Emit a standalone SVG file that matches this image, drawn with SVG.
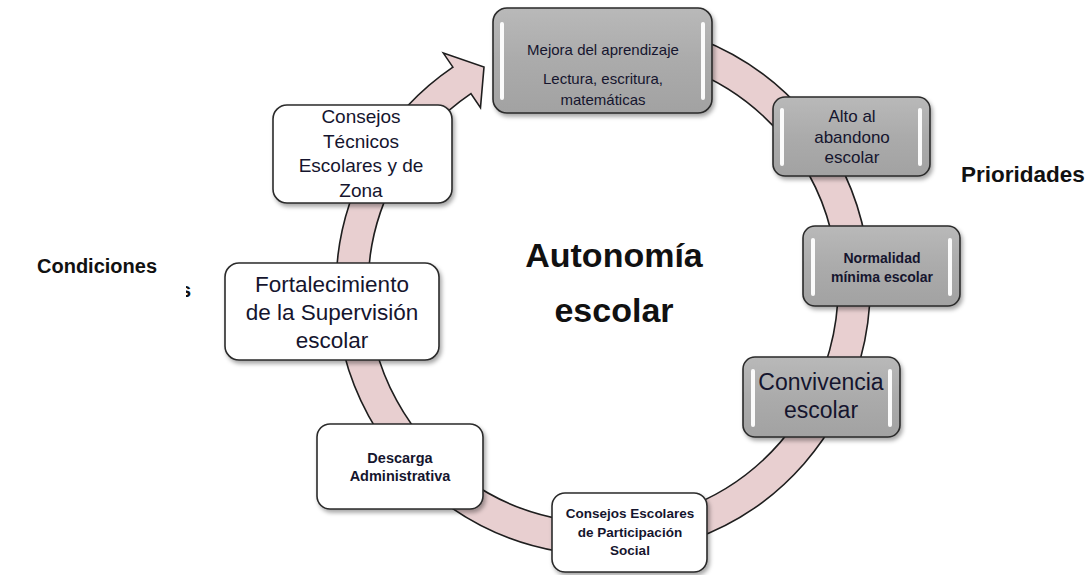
<svg xmlns="http://www.w3.org/2000/svg" width="1091" height="575" viewBox="0 0 1091 575">
<style>
  .t { font-family: "Liberation Sans", Arial, sans-serif; fill: #15152e; text-anchor: middle; }
  .b { font-weight: bold; }
  .gray { fill: url(#gg); stroke: #2a2a2a; stroke-width: 1.6; filter: url(#sh); }
  .white { fill: #ffffff; stroke: #2a2a2a; stroke-width: 1.6; filter: url(#sh); }
  .hl { fill: #ffffff; opacity: 0.95; }
  .ring { fill: #e8cfd0; stroke: #1e1e1e; stroke-width: 1.6; stroke-linejoin: miter; }
  .lbl { font-family: "Liberation Sans", Arial, sans-serif; font-weight: bold; fill: #111111; }
</style>
<defs>
  <linearGradient id="gg" x1="0" y1="0" x2="0" y2="1">
    <stop offset="0" stop-color="#b9b9b9"/>
    <stop offset="0.5" stop-color="#ababab"/>
    <stop offset="1" stop-color="#a2a2a2"/>
  </linearGradient>
  <filter id="sh" x="-10%" y="-10%" width="125%" height="130%">
    <feDropShadow dx="2" dy="3" stdDeviation="2" flood-color="#000" flood-opacity="0.35"/>
  </filter>
  <clipPath id="sclip"><rect x="186" y="270" width="10" height="40"/></clipPath>
</defs>

<g id="connectors">
  <path class="ring" d="M579.73,22.02 A267,267 0 1 1 452.92,67.17 L443.37,53.11 L484.0,67.0 L480.47,107.7 L470.91,93.64 A235,235 0 1 0 582.52,53.9 Z"/>
</g>

<g id="n-mejora">
  <rect class="gray" x="493" y="8" width="219" height="105" rx="14"/>
  <rect class="hl" x="500" y="22" width="4" height="78" rx="2"/>
  <rect class="hl" x="701" y="22" width="4" height="78" rx="2"/>
  <text class="t" x="603" y="55" font-size="15">Mejora del aprendizaje</text>
  <text class="t" x="603" y="84" font-size="15">Lectura, escritura,</text>
  <text class="t" x="603" y="105" font-size="15">matemáticas</text>
</g>

<g id="n-alto">
  <rect class="gray" x="773" y="97" width="157" height="79" rx="12"/>
  <rect class="hl" x="780" y="108" width="4" height="58" rx="2"/>
  <rect class="hl" x="918" y="108" width="4" height="58" rx="2"/>
  <text class="t" x="852" y="122" font-size="17">Alto al</text>
  <text class="t" x="852" y="143" font-size="17">abandono</text>
  <text class="t" x="852" y="163" font-size="17">escolar</text>
</g>

<g id="n-normalidad">
  <rect class="gray" x="803" y="226" width="157" height="80" rx="12"/>
  <rect class="hl" x="811" y="238" width="4" height="58" rx="2"/>
  <rect class="hl" x="948" y="238" width="4" height="58" rx="2"/>
  <text class="t b" x="882" y="263" font-size="14">Normalidad</text>
  <text class="t b" x="882" y="282" font-size="14">mínima escolar</text>
</g>

<g id="n-convivencia">
  <rect class="gray" x="743" y="357" width="157" height="80" rx="12"/>
  <rect class="hl" x="751" y="369" width="4" height="58" rx="2"/>
  <rect class="hl" x="888" y="369" width="4" height="58" rx="2"/>
  <text class="t" x="821" y="390" font-size="23">Convivencia</text>
  <text class="t" x="821" y="418" font-size="23">escolar</text>
</g>

<g id="n-consejos-escolares">
  <rect class="white" x="552" y="493" width="155" height="79" rx="13"/>
  <text class="t b" x="630" y="518" font-size="13.5">Consejos Escolares</text>
  <text class="t b" x="630" y="537" font-size="13.5">de Participación</text>
  <text class="t b" x="630" y="555" font-size="13.5">Social</text>
</g>

<g id="n-descarga">
  <rect class="white" x="317" y="424" width="166" height="85" rx="13"/>
  <text class="t b" x="400" y="463" font-size="14.5">Descarga</text>
  <text class="t b" x="400" y="481" font-size="14.5">Administrativa</text>
</g>

<g id="n-fortalecimiento">
  <rect class="white" x="225" y="263" width="214" height="97" rx="14"/>
  <text class="t" x="332" y="292" font-size="22.5">Fortalecimiento</text>
  <text class="t" x="332" y="320" font-size="22.5">de la Supervisión</text>
  <text class="t" x="332" y="348" font-size="22.5">escolar</text>
</g>

<g id="n-consejos-tecnicos">
  <rect class="white" x="273" y="105" width="179" height="98" rx="14"/>
  <text class="t" x="361" y="123" font-size="19">Consejos</text>
  <text class="t" x="361" y="148" font-size="19">Técnicos</text>
  <text class="t" x="361" y="172" font-size="19">Escolares y de</text>
  <text class="t" x="361" y="197" font-size="19">Zona</text>
</g>

<g id="center">
  <text class="lbl" x="614" y="267" font-size="34" text-anchor="middle">Autonomía</text>
  <text class="lbl" x="614" y="322" font-size="34" text-anchor="middle">escolar</text>
</g>

<g id="labels">
  <text class="lbl" x="37" y="273" font-size="20">Condiciones</text>
  <text class="lbl" x="180" y="297" font-size="20" clip-path="url(#sclip)">s</text>
  <text class="lbl" x="961" y="182" font-size="22.5">Prioridades</text>
</g>
</svg>
